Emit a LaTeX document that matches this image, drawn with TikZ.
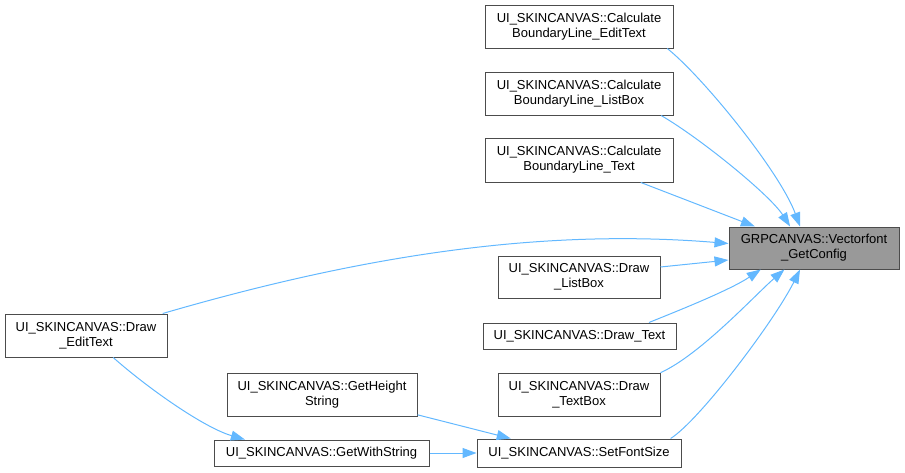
\documentclass[tikz,border=0pt]{standalone}
\usepackage{fontspec}
\setmainfont{Liberation Sans}
\usetikzlibrary{arrows.meta}
\tikzset{
  fn/.style={draw=gray!60!black, line width=1pt, fill=white, rectangle, align=center,
    inner sep=0pt, font=\fontsize{13}{15}\selectfont, text=black},
  cur/.style={fn, fill=gray!80},
  edge/.style={draw={rgb,255:red,99;green,184;blue,255}, line width=1pt,
    -{Triangle[length=14pt,width=10pt]}},
}
\begin{document}
\begin{tikzpicture}[x=1pt,y=-1pt]
\useasboundingbox (0,0) rectangle (905,472);
\node[fn, minimum width=188, minimum height=43] (ce) at (579,26.5) {UI\_SKINCANVAS::Calculate\\BoundaryLine\_EditText};
\node[fn, minimum width=188, minimum height=43] (cl) at (579,93.5) {UI\_SKINCANVAS::Calculate\\BoundaryLine\_ListBox};
\node[fn, minimum width=188, minimum height=44] (ct) at (579,160) {UI\_SKINCANVAS::Calculate\\BoundaryLine\_Text};
\node[cur, minimum width=170, minimum height=42] (vf) at (814,248) {GRPCANVAS::Vectorfont\\\_GetConfig};
\node[fn, minimum width=162, minimum height=42] (dl) at (579,277) {UI\_SKINCANVAS::Draw\\\_ListBox};
\node[fn, minimum width=193, minimum height=26] (dt) at (579.5,336) {UI\_SKINCANVAS::Draw\_Text};
\node[fn, minimum width=162, minimum height=43] (dtb) at (579,394.5) {UI\_SKINCANVAS::Draw\\\_TextBox};
\node[fn, minimum width=204, minimum height=28] (sfs) at (579,453) {UI\_SKINCANVAS::SetFontSize};
\node[fn, minimum width=162, minimum height=43] (det) at (86,335.5) {UI\_SKINCANVAS::Draw\\\_EditText};
\node[fn, minimum width=190, minimum height=43] (ghs) at (322,394.5) {UI\_SKINCANVAS::GetHeight\\String};
\node[fn, minimum width=215, minimum height=26] (gws) at (321.5,453) {UI\_SKINCANVAS::GetWithString};

\draw[edge] (ce.-14.5) .. controls (703,77) and (780,172) .. (vf.123.7);
\draw[edge] (cl.-15.4) .. controls (700,138) and (770,195) .. (vf.138.8);
\draw[edge] (ct.-20.4) -- (vf.160.7);
\draw[edge] (det.16.6) .. controls (360,256) and (540,228) .. (vf.177.3);
\draw[edge] (dl.7) -- (vf.-172);
\draw[edge] (dt.11.6) .. controls (680,310) and (730,290) .. (vf.-158.7);
\draw[edge] (dtb.15.2) .. controls (700,355) and (755,295) .. (vf.-144);
\draw[edge] (sfs.9.8) .. controls (700,420) and (775,320) .. (vf.-123.7);
\draw[edge] (det.-39.6) .. controls (150,390) and (205,428) .. (gws.170.4);
\draw[edge] (ghs.-12.75) -- (sfs.168);
\draw[edge] (gws.east) -- (sfs.west);
\end{tikzpicture}
\end{document}
